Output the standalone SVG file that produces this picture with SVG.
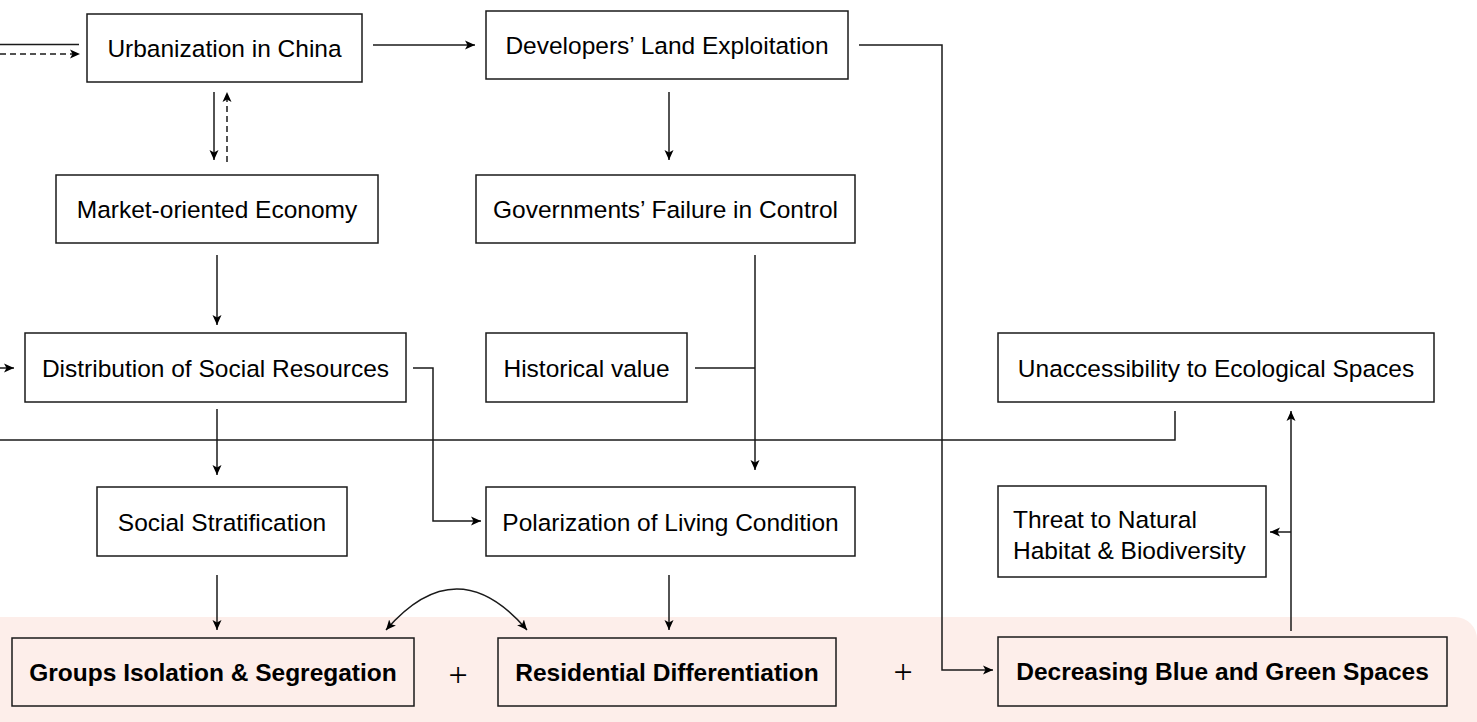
<svg xmlns="http://www.w3.org/2000/svg" width="1477" height="722" viewBox="0 0 1477 722">
<style>
.box{fill:#fff;stroke:#1a1a1a;stroke-width:1.5}
.bbox{fill:none;stroke:#1a1a1a;stroke-width:1.5}
.t{font-family:"Liberation Sans",Arial,sans-serif;font-size:24.5px;fill:#000;text-anchor:middle}
.tb{font-family:"Liberation Sans",Arial,sans-serif;font-size:24.5px;font-weight:bold;fill:#000;text-anchor:middle}
.tl{font-family:"Liberation Sans",Arial,sans-serif;font-size:24.5px;fill:#000}
.plus{font-family:"Liberation Serif","Times New Roman",serif;font-size:34px;fill:#000;text-anchor:middle}
.e{fill:none;stroke:#1a1a1a;stroke-width:1.5}
.a{marker-end:url(#arr)}
.d{stroke-dasharray:6 4}
</style>
<defs>
<marker id="arr" markerUnits="userSpaceOnUse" markerWidth="12" markerHeight="12" viewBox="0 0 12 12" refX="10" refY="6" orient="auto">
<path d="M0,1.5 L10,6 L0,10.5 L2.5,6 Z" fill="#000"/>
</marker>
<marker id="arrs" markerUnits="userSpaceOnUse" markerWidth="12" markerHeight="12" viewBox="0 0 12 12" refX="10" refY="6" orient="auto-start-reverse">
<path d="M0,1.5 L10,6 L0,10.5 L2.5,6 Z" fill="#000"/>
</marker>
</defs>
<rect width="1477" height="722" fill="#fff"/>
<path d="M0,617 H1455 A22,22 0 0 1 1477,639 V722 H0 Z" fill="#fdeeea"/>

<g id="connectors">
<line class="e" x1="0" y1="44.5" x2="79" y2="44.5"/>
<line class="e d a" x1="0" y1="54" x2="80" y2="54"/>
<line class="e a" x1="373" y1="45" x2="475" y2="45"/>
<line class="e a" x1="214" y1="92" x2="214" y2="160"/>
<line class="e d a" x1="227" y1="162" x2="227" y2="92"/>
<line class="e a" x1="669" y1="92" x2="669" y2="160"/>
<line class="e a" x1="217" y1="255" x2="217" y2="325"/>
<line class="e a" x1="217" y1="409" x2="217" y2="475"/>
<line class="e a" x1="0" y1="368" x2="14" y2="368"/>
<polyline class="e a" points="413,368 433,368 433,521 481,521"/>
<line class="e" x1="695" y1="368" x2="755" y2="368"/>
<line class="e a" x1="755" y1="255" x2="755" y2="470"/>
<polyline class="e" points="0,440 1175,440 1175,411"/>
<polyline class="e a" points="859,45 942,45 942,670 993,670"/>
<line class="e a" x1="1291" y1="631" x2="1291" y2="411"/>
<line class="e a" x1="1291" y1="532" x2="1270" y2="532"/>
<line class="e a" x1="217" y1="575" x2="217" y2="630"/>
<line class="e a" x1="669" y1="575" x2="669" y2="630"/>
<path class="e" d="M386,630 Q457,548 527,630" marker-start="url(#arrs)" marker-end="url(#arrs)"/>
</g>

<g id="n-urbanization"><rect class="box" x="87" y="14" width="275" height="68"/><text class="t" x="224.5" y="57">Urbanization in China</text></g>
<g id="n-developers"><rect class="box" x="486" y="11" width="362" height="68"/><text class="t" x="667" y="54">Developers’ Land Exploitation</text></g>
<g id="n-market"><rect class="box" x="56" y="175" width="322" height="68"/><text class="t" x="217" y="218">Market-oriented Economy</text></g>
<g id="n-governments"><rect class="box" x="476" y="175" width="379" height="68"/><text class="t" x="665.5" y="218">Governments’ Failure in Control</text></g>
<g id="n-distribution"><rect class="box" x="25" y="333" width="381" height="69"/><text class="t" x="215.5" y="376.5">Distribution of Social Resources</text></g>
<g id="n-historical"><rect class="box" x="486" y="333" width="201" height="69"/><text class="t" x="586.5" y="376.5">Historical value</text></g>
<g id="n-unaccess"><rect class="box" x="998" y="333" width="436" height="69"/><text class="t" x="1216" y="376.5">Unaccessibility to Ecological Spaces</text></g>
<g id="n-stratification"><rect class="box" x="97" y="487" width="250" height="69"/><text class="t" x="222" y="530.5">Social Stratification</text></g>
<g id="n-polarization"><rect class="box" x="486" y="487" width="369" height="69"/><text class="t" x="670.5" y="530.5">Polarization of Living Condition</text></g>
<g id="n-threat"><rect class="box" x="998" y="486" width="268" height="91"/><text class="tl" x="1013" y="528">Threat to Natural</text><text class="tl" x="1013" y="559">Habitat &amp; Biodiversity</text></g>
<g id="n-groups"><rect class="bbox" x="12" y="638" width="402" height="68"/><text class="tb" x="213" y="681">Groups Isolation &amp; Segregation</text></g>
<g id="n-residential"><rect class="bbox" x="498" y="638" width="338" height="68"/><text class="tb" x="667" y="681">Residential Differentiation</text></g>
<g id="n-decreasing"><rect class="bbox" x="998" y="637" width="449" height="69"/><text class="tb" x="1222.5" y="680">Decreasing Blue and Green Spaces</text></g>
<g id="plus1"><text class="plus" x="458" y="686">+</text></g>
<g id="plus2"><text class="plus" x="903" y="683">+</text></g>
</svg>
